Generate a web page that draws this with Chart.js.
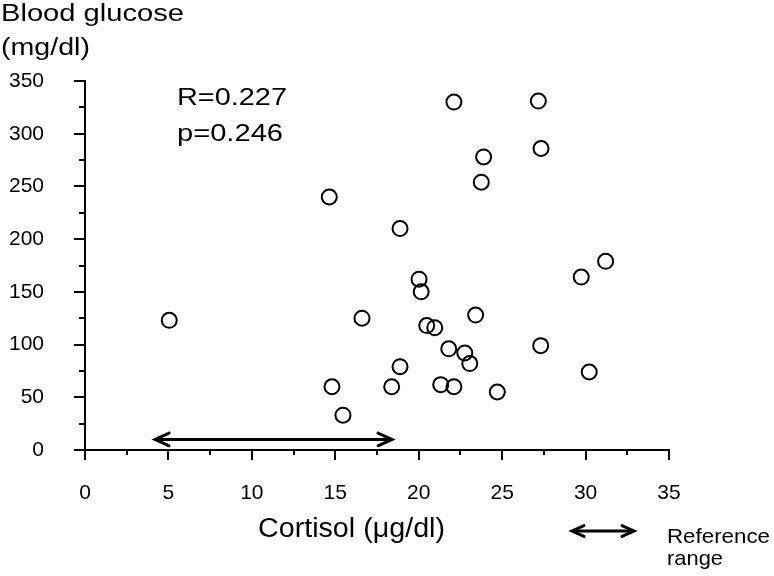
<!DOCTYPE html>
<html>
<head>
<meta charset="utf-8">
<script src="https://cdn.jsdelivr.net/npm/chart.js@4/dist/chart.umd.min.js"></script>
<style>
  html, body { margin: 0; padding: 0; background: #fff; }
  #wrap { width: 774px; height: 576px; }
</style>
</head>
<body>
<div id="wrap"><canvas id="chart" width="774" height="576"></canvas></div>
<script>
// cortisol (µg/dl) vs blood glucose (mg/dl), one pair per patient
const cortisol = [5.05, 14.64, 18.88, 22.11, 27.17, 23.89, 23.75, 27.33, 31.2, 29.74,
                  20.02, 20.15, 16.6, 20.48, 20.96, 23.41, 27.31, 21.8, 22.76, 23.06,
                  18.88, 14.8, 18.38, 21.32, 22.11, 24.71, 15.46, 30.22];
const glucose = [123, 240, 210, 330, 331, 278, 254, 286, 179, 164,
                 162, 150, 125, 118, 116, 128, 99, 96, 92, 82,
                 79, 60, 60, 62, 60, 55, 33, 74];

const xTicks = [0, 5, 10, 15, 20, 25, 30, 35];
const yTicks = [0, 50, 100, 150, 200, 250, 300, 350];
const refRange = [4.2, 18.4];   // cortisol reference range
const refLevel = 10;            // height of the range arrow on the glucose axis

const stats = ['R=0.227', 'p=0.246'];

const FONT = "'Liberation Sans', Arial, sans-serif";

// text squeezed/stretched to the width it has in the figure
function fitText(ctx, text, x, y, size, width) {
    ctx.save();
    ctx.font = size + 'px ' + FONT;
    const w = ctx.measureText(text).width;
    ctx.translate(x, y);
    ctx.scale(width / w, 1);
    ctx.fillText(text, 0, 0);
    ctx.restore();
}

function arrow(ctx, x1, x2, y, head) {
    ctx.beginPath();
    ctx.moveTo(x1 + 2, y);
    ctx.lineTo(x2 - 2, y);
    ctx.stroke();
    ctx.beginPath();
    ctx.moveTo(x1 + head, y - head * 0.45);
    ctx.lineTo(x1, y);
    ctx.lineTo(x1 + head, y + head * 0.45);
    ctx.moveTo(x2 - head, y - head * 0.45);
    ctx.lineTo(x2, y);
    ctx.lineTo(x2 - head, y + head * 0.45);
    ctx.stroke();
}

const decorations = {
    id: 'decorations',
    afterDraw(chart) {
        const ctx = chart.ctx;
        const xs = chart.scales.x, ys = chart.scales.y;
        ctx.save();
        ctx.strokeStyle = '#000';
        ctx.fillStyle = '#000';
        ctx.lineWidth = 2;

        // major and minor tick marks
        for (let v = 0; v <= 35; v += 2.5) {
            const px = Math.round(xs.getPixelForValue(v));
            const len = v % 5 === 0 ? 10 : 5;
            ctx.beginPath();
            ctx.moveTo(px, ys.bottom);
            ctx.lineTo(px, ys.bottom + len);
            ctx.stroke();
        }
        for (let v = 0; v <= 350; v += 25) {
            const py = Math.round(ys.getPixelForValue(v));
            const len = v % 50 === 0 ? 11 : 6;
            ctx.beginPath();
            ctx.moveTo(xs.left, py);
            ctx.lineTo(xs.left - len, py);
            ctx.stroke();
        }

        // reference range arrow on the plot
        ctx.lineWidth = 3;
        ctx.lineCap = 'round';
        ctx.lineJoin = 'miter';
        arrow(ctx, xs.getPixelForValue(refRange[0]), xs.getPixelForValue(refRange[1]),
              ys.getPixelForValue(refLevel), 14);

        // key for the arrow
        arrow(ctx, 572, 634, 531, 12);

        // texts
        ctx.textBaseline = 'alphabetic';
        ctx.textAlign = 'left';
        fitText(ctx, 'Blood glucose', 1, 21, 23, 183);
        fitText(ctx, '(mg/dl)', 1, 55, 23, 89);
        fitText(ctx, stats[0], 177, 105, 24, 110);
        fitText(ctx, stats[1], 177, 141, 24, 106);
        fitText(ctx, 'Cortisol (\u03BCg/dl)', 258, 537, 27, 187);
        fitText(ctx, 'Reference', 667, 543, 21, 103);
        fitText(ctx, 'range', 667, 565, 21, 56);
        ctx.restore();
    }
};

new Chart(document.getElementById('chart'), {
    type: 'scatter',
    data: {
        datasets: [{
            data: cortisol.map((c, i) => ({ x: c, y: glucose[i] })),
            pointStyle: 'circle',
            pointRadius: 7.5,
            pointHoverRadius: 7.5,
            borderWidth: 2,
            borderColor: '#000',
            backgroundColor: 'rgba(0,0,0,0)'
        }]
    },
    options: {
        responsive: false,
        animation: false,
        events: [],
        layout: { padding: { top: 81, right: 105, left: 0, bottom: 0 } },
        plugins: { legend: { display: false }, tooltip: { enabled: false } },
        scales: {
            x: {
                type: 'linear',
                min: 0, max: 35,
                afterFit: s => { s.height = 126; },
                afterBuildTicks: s => { s.ticks = xTicks.map(v => ({ value: v })); },
                grid: { display: false, drawTicks: false },
                border: { display: true, color: '#000', width: 2 },
                ticks: { color: '#000', padding: 31, font: { family: FONT, size: 21 } }
            },
            y: {
                type: 'linear',
                min: 0, max: 350,
                afterFit: s => { s.width = 85; },
                afterBuildTicks: s => { s.ticks = yTicks.map(v => ({ value: v })); },
                grid: { display: false, drawTicks: false },
                border: { display: true, color: '#000', width: 2 },
                ticks: { color: '#000', padding: 41, font: { family: FONT, size: 21 } }
            }
        }
    },
    plugins: [decorations]
});
</script>
</body>
</html>
